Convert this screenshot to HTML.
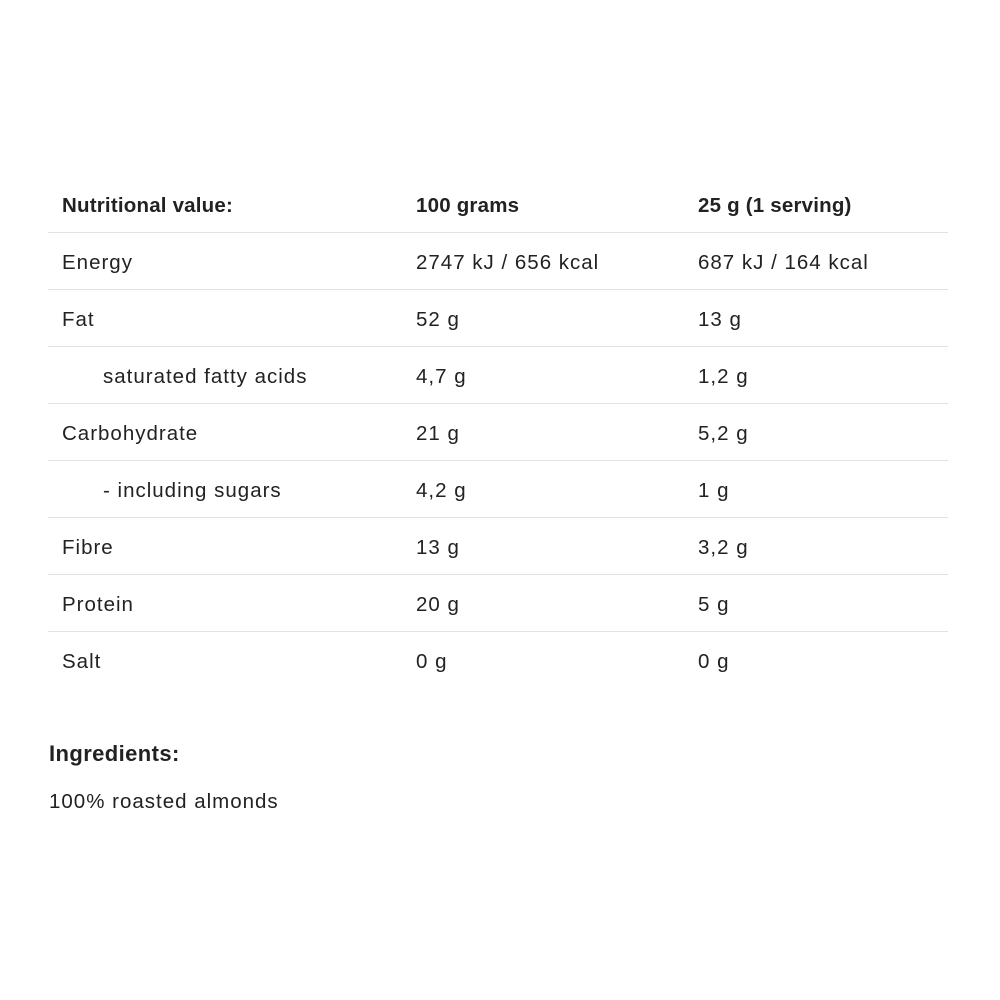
<!DOCTYPE html>
<html><head><style>
body{margin:0;width:1000px;height:1000px;background:#fff;font-family:"Liberation Sans",sans-serif;color:#222;position:relative}
.t{position:absolute;font-size:20.5px;line-height:20px;white-space:nowrap;letter-spacing:1px}
.b{font-weight:bold;letter-spacing:0.2px}
.l{position:absolute;left:48px;width:900px;height:1px;background:#e2e2e2}
</style></head><body>
<div class="t b" style="left:62px;top:196px">Nutritional value:</div>
<div class="t b" style="left:416px;top:196px">100 grams</div>
<div class="t b" style="left:698px;top:196px">25 g (1 serving)</div>
<div class="l" style="top:232px"></div>
<div class="t" style="left:62px;top:253px">Energy</div><div class="t" style="left:416px;top:253px">2747 kJ / 656 kcal</div><div class="t" style="left:698px;top:253px">687 kJ / 164 kcal</div>
<div class="l" style="top:289px"></div>
<div class="t" style="left:62px;top:310px">Fat</div><div class="t" style="left:416px;top:310px">52 g</div><div class="t" style="left:698px;top:310px">13 g</div>
<div class="l" style="top:346px"></div>
<div class="t" style="left:103px;top:367px">saturated fatty acids</div><div class="t" style="left:416px;top:367px">4,7 g</div><div class="t" style="left:698px;top:367px">1,2 g</div>
<div class="l" style="top:403px"></div>
<div class="t" style="left:62px;top:424px">Carbohydrate</div><div class="t" style="left:416px;top:424px">21 g</div><div class="t" style="left:698px;top:424px">5,2 g</div>
<div class="l" style="top:460px"></div>
<div class="t" style="left:103px;top:481px">- including sugars</div><div class="t" style="left:416px;top:481px">4,2 g</div><div class="t" style="left:698px;top:481px">1 g</div>
<div class="l" style="top:517px"></div>
<div class="t" style="left:62px;top:538px">Fibre</div><div class="t" style="left:416px;top:538px">13 g</div><div class="t" style="left:698px;top:538px">3,2 g</div>
<div class="l" style="top:574px"></div>
<div class="t" style="left:62px;top:595px">Protein</div><div class="t" style="left:416px;top:595px">20 g</div><div class="t" style="left:698px;top:595px">5 g</div>
<div class="l" style="top:631px"></div>
<div class="t" style="left:62px;top:652px">Salt</div><div class="t" style="left:416px;top:652px">0 g</div><div class="t" style="left:698px;top:652px">0 g</div>
<div class="t b" style="left:49px;top:743px;font-size:22px;line-height:22px;letter-spacing:0.4px">Ingredients:</div>
<div class="t" style="left:49px;top:792px">100% roasted almonds</div>
</body></html>
